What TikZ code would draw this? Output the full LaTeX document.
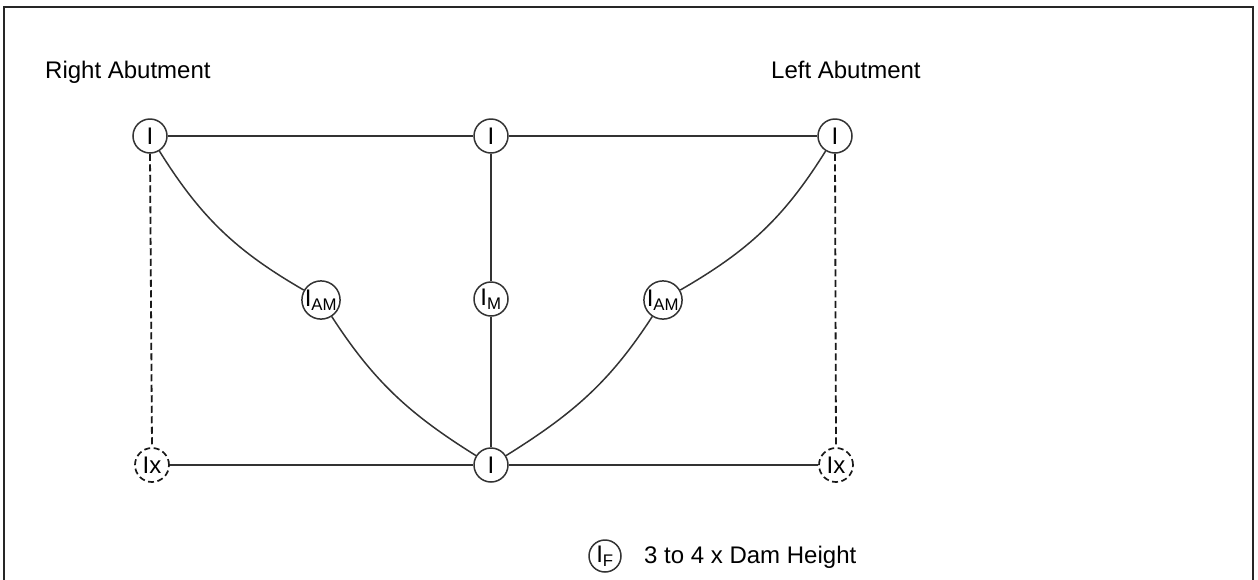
\documentclass[tikz,border=0pt]{standalone}
\usepackage{fontspec}
\setmainfont{Liberation Sans}
\begin{document}
\begin{tikzpicture}[x=1pt,y=-1pt,
  lbl/.style={font=\fontsize{24}{28}\selectfont, inner sep=0pt},
  nd/.style={circle, draw=black!80, line width=1.5pt, minimum size=34pt, inner sep=0pt, font=\fontsize{24}{26}\selectfont},
  ndx/.style={nd, draw=black!90, line width=1.7pt, dash pattern=on 6pt off 3.5pt},
  conn/.style={draw=black!80, line width=1.5pt},
  dconn/.style={draw=black!90, line width=1.8pt, dash pattern=on 7pt off 3.5pt}]
\useasboundingbox (0,0) rectangle (1258,579);
\draw[line width=2pt, black!85] (4,585) -- (4,7) -- (1253,7) -- (1253,585);

\node[lbl, anchor=base west] (ra) at (45,78) {Right Abutment};
\node[lbl, anchor=base west] (la) at (771,78) {Left Abutment};

\node[nd] (tl) at (150,136) {I};
\node[nd] (tm) at (491,136) {I};
\node[nd] (tr) at (835,136) {I};
\node[nd] (aml) at (321,300) {I\textsubscript{AM}};
\node[nd] (im) at (491,299) {I\textsubscript{M}};
\node[nd] (amr) at (663,300) {I\textsubscript{AM}};
\node[ndx] (bl) at (152,465) {Ix};
\node[nd] (bm) at (491,465) {I};
\node[ndx] (br) at (836,465) {Ix};

\draw[conn] (tl) -- (tm);
\draw[conn] (tm) -- (tr);
\draw[conn] (tm) -- (im);
\draw[conn] (im) -- (bm);
\draw[conn] (bl) -- (bm);
\draw[conn] (bm) -- (br);
\draw[dconn] (tl.south) -- (bl.north);
\draw[dconn] (tr.south) -- (br.north);
\draw[conn] (tl) to[out=-58,in=150] (aml);
\draw[conn] (aml) to[out=-57,in=148] (bm);
\draw[conn] (tr) to[out=-122,in=30] (amr);
\draw[conn] (amr) to[out=-123,in=32] (bm);

\node[nd, minimum size=32pt] (if) at (605,556) {I\textsubscript{F}};
\node[lbl, anchor=base west] (lg) at (644,563) {3 to 4 x Dam Height};
\end{tikzpicture}
\end{document}
